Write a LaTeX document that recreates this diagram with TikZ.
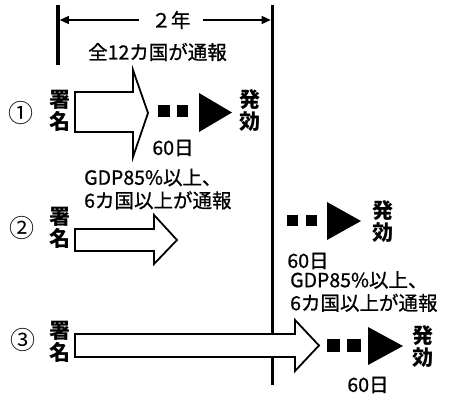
\documentclass[tikz,border=0pt]{standalone}
\usepackage{fontspec}
\newfontfamily\jp[FakeBold=0.9]{Noto Sans CJK JP}
\newfontfamily\jpb{Noto Sans CJK JP}
\usetikzlibrary{arrows.meta}
\begin{document}
\begin{tikzpicture}[x=1pt,y=-1pt,
  txt/.style={inner sep=0pt,font=\jp\fontsize{19.5}{23}\selectfont},
  ltxt/.style={txt,anchor=west,align=left},
  vtxt/.style={inner sep=0pt,align=center,font=\jpb\bfseries\fontsize{21}{22}\selectfont},
  num/.style={inner sep=0pt,font=\jpb\fontsize{25}{26}\selectfont},
  bar/.style={line width=3.4pt},
  dim/.style={line width=1.3pt,-{Triangle[length=9pt,width=8pt]}},
  blockarrow/.style={draw=black,fill=white,line width=1.8pt,line join=miter},
  blk/.style={fill=black}]
\useasboundingbox[fill=white] (0,0) rectangle (450,401);
% bars
\coordinate (lt) at (58,5); \coordinate (lb) at (58,65);
\coordinate (rt) at (272.5,5); \coordinate (rb) at (272.5,385);
\draw[bar] (lt) -- (lb);
\draw[bar] (rt) -- (rb);
% dimension
\node[txt,inner xsep=12pt] (yr) at (171,20) {２年};
\coordinate (dl) at (59.8,20); \coordinate (dr) at (270.7,20);
\draw[dim] (yr.west) -- (dl);
\draw[dim] (yr.east) -- (dr);
% row 1
\node[num] (n1) at (21,113) {①};
\node[vtxt] (s1) at (60,111) {署\\名};
\draw[blockarrow] (75,92) -- (133,92) -- (133,70) -- (148,113) -- (133,157) -- (133,132) -- (75,132) -- cycle;
\node[txt] (c1) at (157.5,52) {全12カ国が通報};
\fill[blk] (158,105) rectangle (170,117);
\fill[blk] (177,105) rectangle (188,117);
\fill[blk] (199,93) -- (232,112.5) -- (199,132) -- cycle;
\node[vtxt] (h1) at (250,111) {発\\効};
\node[txt] (d1) at (173,148) {60日};
% row 2
\node[num] (n2) at (22,228) {②};
\node[vtxt] (s2) at (60,228) {署\\名};
\draw[blockarrow] (75,229) -- (154,229) -- (154,215) -- (177,240) -- (154,264) -- (154,251) -- (75,251) -- cycle;
\node[ltxt] (c2) at (84,189) {GDP85\%以上、\\6カ国以上が通報};
\fill[blk] (287,215) rectangle (298,226);
\fill[blk] (306,215) rectangle (317,226);
\fill[blk] (327,202) -- (361,221) -- (327,240) -- cycle;
\node[vtxt] (h2) at (383,222) {発\\効};
\node[txt] (d2) at (308,261) {60日};
% row 3
\node[ltxt] (c3) at (290,291.5) {GDP85\%以上、\\6カ国以上が通報};
\node[num] (n3) at (23,340) {③};
\node[vtxt] (s3) at (60,342) {署\\名};
\draw[blockarrow] (75,334) -- (295,334) -- (295,320) -- (319,345.5) -- (295,371) -- (295,357) -- (75,357) -- cycle;
\fill[blk] (327,339) rectangle (340,352);
\fill[blk] (347,339) rectangle (361,352);
\fill[blk] (368,327) -- (403,346) -- (368,365) -- cycle;
\node[vtxt] (h3) at (423,347) {発\\効};
\node[txt] (d3) at (368,385) {60日};
\end{tikzpicture}
\end{document}
